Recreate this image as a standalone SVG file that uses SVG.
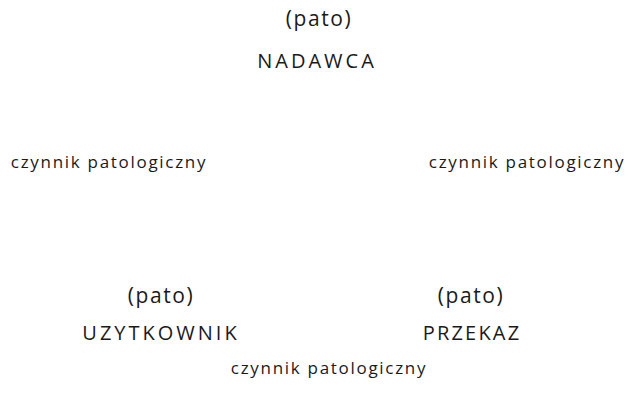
<svg xmlns="http://www.w3.org/2000/svg" width="626" height="407" viewBox="0 0 626 407">
<style>
text{font-family:"Open Sans","Noto Sans","DejaVu Sans",sans-serif;fill:#1a1a1a;text-anchor:middle}
.p{font-size:21px;letter-spacing:1.6px}
.n{font-size:20px;letter-spacing:3px}
.n2{letter-spacing:2.2px}
.c{font-size:17px;letter-spacing:1.7px}
</style>
<rect width="626" height="407" fill="#fff"/>
<g id="nadawca"><text class="p" x="319" y="26">(pato)</text><text class="n" x="317" y="68">NADAWCA</text></g>
<g id="uzytkownik"><text class="p" x="161" y="303">(pato)</text><text class="n" x="161" y="340">UZYTKOWNIK</text></g>
<g id="przekaz"><text class="p" x="471" y="303">(pato)</text><text class="n n2" x="472" y="340">PRZEKAZ</text></g>
<g id="czynnik-l"><text class="c" x="109" y="168">czynnik patologiczny</text></g>
<g id="czynnik-r"><text class="c" x="527" y="168">czynnik patologiczny</text></g>
<g id="czynnik-b"><text class="c" x="329" y="374">czynnik patologiczny</text></g>
<g id="connectors"/>
</svg>
